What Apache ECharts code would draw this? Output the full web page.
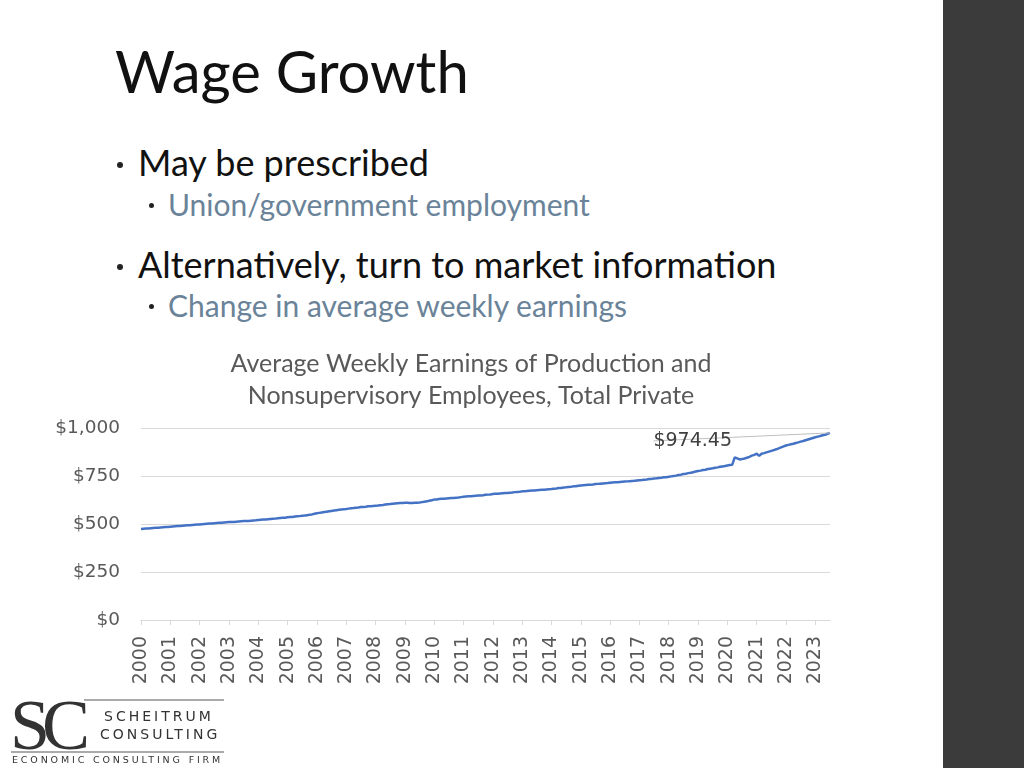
<!DOCTYPE html>
<html>
<head>
<meta charset="utf-8">
<script src="https://cdn.jsdelivr.net/npm/echarts@6/dist/echarts.min.js"></script>
<style>
  html, body { margin: 0; padding: 0; width: 1024px; height: 768px; overflow: hidden; background: #ffffff; }
  #bar { position: absolute; left: 943px; top: 0; width: 81px; height: 768px; background: #3b3b3b; }
  .t { position: absolute; font-family: Lato, "Noto Sans", sans-serif; white-space: nowrap; }
  #title { left: 115px; top: 36px; font-size: 58px; color: #111; }
  .b1 { font-size: 36px; color: #111; left: 138px; }
  .b2 { font-size: 30px; color: #6a8399; left: 168px; }
  .dot { position: absolute; width: 6px; height: 6px; border-radius: 3px; background: #222; }
  #chart { position: absolute; left: 0; top: 340px; width: 942px; height: 360px; }
  #logo { position: absolute; left: 8px; top: 694px; width: 220px; height: 74px; }
  #sc { position: absolute; left: 2px; top: -10px; font-family: "Liberation Serif", serif; font-size: 72px; color: #333; letter-spacing: -8px; }
  #l1 { position: absolute; left: 76px; top: 5px; width: 140px; height: 2px; background: #aaa; }
  #l2 { position: absolute; left: 3px; top: 57px; width: 213px; height: 2px; background: #aaa; }
  .lg { position: absolute; font-family: "DejaVu Sans", sans-serif; color: #333; white-space: nowrap; }
  #n1 { left: 96px; top: 14px; font-size: 14px; letter-spacing: 3px; }
  #n2 { left: 92px; top: 32px; font-size: 14px; letter-spacing: 3px; }
  #n3 { left: 4px; top: 60px; font-size: 9.5px; letter-spacing: 2.85px; }
</style>
</head>
<body>
<div id="bar"></div>
<div class="t" id="title">Wage Growth</div>
<div class="dot" style="left:117px;top:162px"></div>
<div class="t b1" style="top:140px">May be prescribed</div>
<div class="dot" style="left:149px;top:203px;width:5px;height:5px"></div>
<div class="t b2" style="top:186px">Union/government employment</div>
<div class="dot" style="left:117px;top:264px"></div>
<div class="t b1" style="top:242px">Alternatively, turn to market information</div>
<div class="dot" style="left:149px;top:304px;width:5px;height:5px"></div>
<div class="t b2" style="top:287px">Change in average weekly earnings</div>
<div id="chart"></div>
<div id="logo">
  <div id="sc">SC</div>
  <div id="l1"></div>
  <div id="l2"></div>
  <div class="lg" id="n1">SCHEITRUM</div>
  <div class="lg" id="n2">CONSULTING</div>
  <div class="lg" id="n3">ECONOMIC CONSULTING FIRM</div>
</div>
<script>
// Average weekly earnings, monthly (Jan 2000 - Jul 2023)
const y2000 = [474, 475, 476, 477, 478, 479, 480, 481, 482, 483, 484, 485];
const y2001 = [486, 487, 488, 489, 490, 491, 492, 493, 494, 495, 496, 497];
const y2002 = [498, 499, 500, 501, 502, 503, 504, 505, 506, 507, 508, 509];
const y2003 = [510, 511, 511, 512, 513, 514, 515, 515, 516, 517, 518, 519];
const y2004 = [521, 522, 523, 524, 525, 526, 527, 528, 530, 531, 532, 533];
const y2005 = [535, 536, 537, 539, 540, 541, 543, 544, 546, 548, 550, 553];
const y2006 = [556, 558, 560, 562, 564, 566, 568, 570, 572, 574, 576, 577];
const y2007 = [578, 580, 582, 583, 585, 586, 588, 589, 590, 592, 593, 594];
const y2008 = [595, 596, 598, 599, 601, 603, 604, 606, 607, 608, 609, 610];
const y2009 = [611, 611, 610, 610, 611, 611, 612, 614, 616, 618, 621, 624];
const y2010 = [627, 628, 630, 631, 632, 633, 634, 635, 636, 637, 638, 640];
const y2011 = [642, 643, 644, 645, 646, 647, 648, 649, 650, 652, 653, 654];
const y2012 = [656, 657, 658, 659, 660, 661, 662, 663, 664, 666, 667, 668];
const y2013 = [670, 671, 672, 673, 674, 675, 676, 677, 678, 679, 680, 681];
const y2014 = [682, 684, 685, 687, 688, 690, 691, 693, 694, 696, 697, 699];
const y2015 = [701, 702, 703, 704, 705, 706, 708, 709, 710, 711, 712, 713];
const y2016 = [715, 716, 717, 718, 719, 720, 721, 722, 723, 724, 725, 727];
const y2017 = [728, 729, 731, 732, 734, 735, 737, 738, 740, 741, 743, 744];
const y2018 = [746, 748, 750, 752, 755, 757, 760, 762, 765, 767, 770, 773];
const y2019 = [776, 778, 781, 783, 786, 788, 790, 793, 795, 798, 800, 802];
const y2020 = [805, 807, 809, 847, 842, 836, 838, 841, 845, 850, 856, 860];
const y2021 = [866, 855, 866, 869, 873, 877, 881, 885, 889, 894, 899, 904];
const y2022 = [909, 912, 915, 918, 922, 925, 929, 932, 936, 940, 944, 948];
const y2023 = [952, 955, 958, 962, 965, 970, 974.45];

const yearly = [y2000, y2001, y2002, y2003, y2004, y2005, y2006, y2007, y2008, y2009, y2010, y2011,
                y2012, y2013, y2014, y2015, y2016, y2017, y2018, y2019, y2020, y2021, y2022, y2023];
const firstYear = 2000;
const yTicks = [0, 250, 500, 750, 1000];
const chartTitle = 'Average Weekly Earnings of Production and\nNonsupervisory Employees, Total Private';
const lastLabel = '$974.45';

const months = [];
const values = [];
yearly.forEach((arr, i) => {
  arr.forEach((v, m) => {
    months.push((firstYear + i) + '-' + String(m + 1).padStart(2, '0'));
    values.push(v);
  });
});
const seriesData = values.map((v, i) => i === values.length - 1
  ? { value: v, label: { show: true, formatter: lastLabel }, labelLine: { show: true } }
  : v);

const chart = echarts.init(document.getElementById('chart'));
const titleFont = 'Lato, "Noto Sans", sans-serif';
const axisFont = '"DejaVu Sans", sans-serif';
chart.setOption({
  animation: false,
  title: {
    text: chartTitle,
    left: 466, top: 3, textAlign: 'center',
    textStyle: { fontFamily: titleFont, fontSize: 25, fontWeight: 'normal', color: '#595959', lineHeight: 32 }
  },
  grid: { left: 141, top: 88, width: 689, height: 192 },
  xAxis: {
    type: 'category',
    data: months,
    boundaryGap: false,
    axisLine: { lineStyle: { color: '#d9d9d9' } },
    axisTick: { show: true, lineStyle: { color: '#d9d9d9' }, length: 5,
      interval: (idx, v) => v.endsWith('-01') },
    axisLabel: {
      interval: (idx, v) => v.endsWith('-01'),
      formatter: v => v.slice(0, 4),
      rotate: 90, margin: 16,
      fontFamily: axisFont, fontSize: 19, color: '#595959'
    }
  },
  yAxis: {
    type: 'value', min: yTicks[0], max: yTicks[yTicks.length - 1], interval: 250,
    axisLine: { show: false }, axisTick: { show: false },
    splitLine: { lineStyle: { color: '#d9d9d9' } },
    axisLabel: {
      formatter: v => '$' + v.toLocaleString('en-US'),
      margin: 21, fontFamily: axisFont, fontSize: 18.5, color: '#595959'
    }
  },
  series: [{
    type: 'line',
    data: seriesData,
    symbol: 'circle',
    symbolSize: 0,
    showSymbol: true,
    showAllSymbol: true,
    lineStyle: { color: '#4472c4', width: 2.5 },
    label: { show: false, position: 'left', distance: 0, fontFamily: axisFont, fontSize: 19, color: '#404040' },
    labelLayout: { dx: -98, dy: 8 },
    labelLine: { show: true, lineStyle: { color: '#bfbfbf', width: 1 } }
  }]
});
</script>
</body>
</html>
